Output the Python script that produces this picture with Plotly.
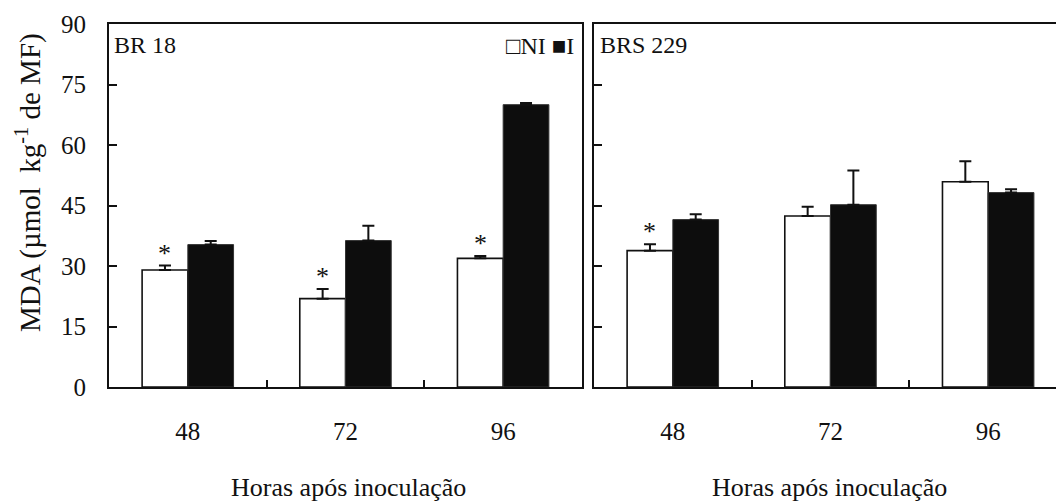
import plotly.graph_objects as go

hours = ["48", "72", "96"]

br18_ni = [29.0, 21.9, 31.9]
br18_ni_err = [1.1, 2.4, 0.6]
br18_i = [35.3, 36.3, 70.0]
br18_i_err = [0.9, 3.7, 0.4]

brs229_ni = [33.8, 42.4, 50.9]
brs229_ni_err = [1.6, 2.3, 5.1]
brs229_i = [41.5, 45.2, 48.2]
brs229_i_err = [1.3, 8.5, 0.8]

br18_sig = [True, True, True]
brs229_sig = [True, False, False]

y_ticks = [0, 15, 30, 45, 60, 75, 90]

FONT = "Liberation Serif"
W, H = 1056, 502

def px_x(p):
    return p / W

def px_y(p):
    return 1 - p / H

fig = go.Figure()

def add_bars(ni, ni_err, i_vals, i_err, xa, ya):
    fig.add_trace(go.Bar(
        x=hours, y=ni, name="NI", xaxis=xa, yaxis=ya,
        marker=dict(color="white", line=dict(color="#111111", width=1.6)),
        error_y=dict(type="data", array=ni_err, arrayminus=[0] * len(ni),
                     symmetric=False, color="#111111", thickness=2, width=6),
        showlegend=False))
    fig.add_trace(go.Bar(
        x=hours, y=i_vals, name="I", xaxis=xa, yaxis=ya,
        marker=dict(color="#0d0d0d", line=dict(color="#333333", width=1)),
        error_y=dict(type="data", array=i_err, arrayminus=[0] * len(i_vals),
                     symmetric=False, color="#111111", thickness=2, width=6),
        showlegend=False))

add_bars(br18_ni, br18_ni_err, br18_i, br18_i_err, "x", "y")
add_bars(brs229_ni, brs229_ni_err, brs229_i, brs229_i_err, "x2", "y2")

ydom = [px_y(387), px_y(24)]
axis_common = dict(showline=True, linecolor="#111111", linewidth=2,
                   showgrid=False, zeroline=False, automargin=False)

fig.update_layout(
    template="none",
    width=W, height=H,
    margin=dict(l=0, r=0, t=0, b=0, pad=0),
    paper_bgcolor="white", plot_bgcolor="white",
    font=dict(family=FONT, size=24, color="#111111"),
    barmode="group", bargap=0.42, bargroupgap=0,
    xaxis=dict(domain=[px_x(109), px_x(582)], anchor="y", type="category",
               range=[-0.5, 2.5], tickson="boundaries", ticks="inside",
               ticklen=7, tickwidth=2, tickcolor="#111111", mirror=True,
               ticklabelstandoff=21, tickfont=dict(size=25, family=FONT),
               **axis_common),
    yaxis=dict(domain=ydom, anchor="x", range=[0, 90], tickvals=y_ticks,
               ticks="inside", ticklen=8, tickwidth=2, tickcolor="#111111",
               mirror=True, ticklabelstandoff=16,
               tickfont=dict(size=25, family=FONT), **axis_common),
    xaxis2=dict(domain=[px_x(594), 1], anchor="y2", type="category",
                range=[-0.5, 2.43], tickson="boundaries", ticks="inside",
                ticklen=7, tickwidth=2, tickcolor="#111111", mirror=True,
                ticklabelstandoff=21, tickfont=dict(size=25, family=FONT),
                **axis_common),
    yaxis2=dict(domain=ydom, anchor="x2", range=[0, 90], tickvals=y_ticks,
                ticks="inside", ticklen=8, tickwidth=2, tickcolor="#111111",
                showticklabels=False, mirror=False, **axis_common),
)

ann = []
# asterisks above NI bars (category index positions)
for xa, ya, ni, err, sig in [("x", "y", br18_ni, br18_ni_err, br18_sig),
                             ("x2", "y2", brs229_ni, brs229_ni_err, brs229_sig)]:
    for idx, (v, e, s) in enumerate(zip(ni, err, sig)):
        if s:
            ann.append(dict(x=idx, y=v + e, xref=xa, yref=ya, text="*",
                            showarrow=False, xshift=-23, yshift=-4,
                            yanchor="bottom", font=dict(size=26, family=FONT)))

# panel labels
ann.append(dict(x=px_x(112), y=px_y(45), xref="paper", yref="paper",
                text="BR 18", showarrow=False, xanchor="left", yanchor="middle",
                font=dict(size=24, family=FONT)))
ann.append(dict(x=px_x(598), y=px_y(45), xref="paper", yref="paper",
                text="BRS 229", showarrow=False, xanchor="left", yanchor="middle",
                font=dict(size=24, family=FONT)))
# legend
ann.append(dict(x=px_x(576), y=px_y(46), xref="paper", yref="paper",
                text="\u25a1NI \u25a0I", showarrow=False, xanchor="right",
                yanchor="middle", font=dict(size=24, family=FONT)))
# axis titles
ann.append(dict(x=px_x(348), y=px_y(487), xref="paper", yref="paper",
                text="Horas após inoculação", showarrow=False,
                xanchor="center", yanchor="middle",
                font=dict(size=26, family=FONT)))
ann.append(dict(x=px_x(829), y=px_y(487), xref="paper", yref="paper",
                text="Horas após inoculação", showarrow=False,
                xanchor="center", yanchor="middle",
                font=dict(size=26, family=FONT)))
ann.append(dict(x=px_x(28), y=px_y(183), xref="paper", yref="paper",
                text="MDA (µmol  kg<sup>-1</sup> de MF)", showarrow=False,
                textangle=-90, xanchor="center", yanchor="middle",
                font=dict(size=29, family=FONT)))

fig.update_layout(annotations=ann)

fig.write_html("out.html",
               config={"displayModeBar": False},
               post_script="document.body.style.margin='0px';"
                           "document.body.style.overflow='hidden';")
